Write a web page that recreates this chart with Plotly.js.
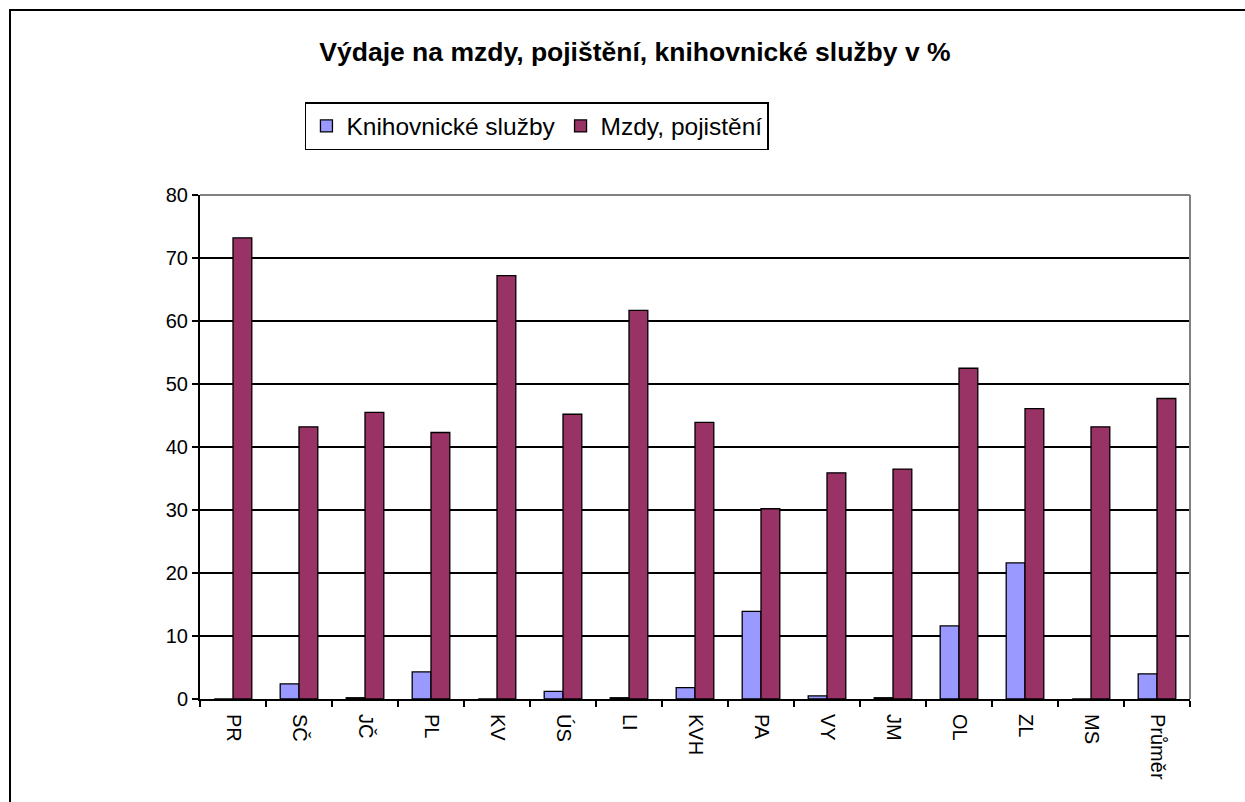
<!DOCTYPE html>
<html><head><meta charset="utf-8">
<script src="https://cdn.plot.ly/plotly-3.0.1.min.js"></script>
<style>
html,body{margin:0;padding:0;background:#fff;}
#wrap{position:relative;width:1245px;height:802px;}
#chart{width:1245px;height:802px;}
#frame{position:absolute;left:9px;top:9px;width:1300px;height:900px;border-left:2px solid #000;border-top:2px solid #000;pointer-events:none;}
</style></head>
<body>
<div id="wrap"><div id="chart"></div><div id="frame"></div></div>
<script>
const categories = ["PR","SČ","JČ","PL","KV","ÚS","LI","KVH","PA","VY","JM","OL","ZL","MS","Průměr"];
const knihovnicke = [0, 2.4, 0.2, 4.3, 0, 1.2, 0.2, 1.8, 13.9, 0.5, 0.2, 11.6, 21.6, 0, 4.0];
const mzdy = [73.2, 43.2, 45.5, 42.3, 67.2, 45.2, 61.7, 43.9, 30.2, 35.9, 36.5, 52.5, 46.1, 43.2, 47.7];
const seriesNames = ["Knihovnické služby", "Mzdy, pojistění"];
const titleText = "Výdaje na mzdy, pojištění, knihovnické služby v %";

const font = "Arial, 'Liberation Sans', sans-serif";
const traces = [
  {type:"bar", name:seriesNames[0], x:categories, y:knihovnicke,
   marker:{color:"#9999FF", line:{color:"#000", width:1.3}}},
  {type:"bar", name:seriesNames[1], x:categories, y:mzdy,
   marker:{color:"#993366", line:{color:"#000", width:1.3}}}
];
const layout = {
  width:1245, height:802,
  margin:{l:200, r:55, t:195, b:103},
  paper_bgcolor:"#fff", plot_bgcolor:"#fff",
  font:{family:font, color:"#000"},
  title:{text:"<b>"+titleText+"</b>", x:0.51, xanchor:"center", y:0.935, yanchor:"middle",
         font:{family:font, size:26.5, color:"#000"}},
  barmode:"group", bargap:0.43, bargroupgap:0,
  showlegend:true,
  legend:{orientation:"h", x:0.106, xanchor:"left", y:1.1845, yanchor:"top",
          bordercolor:"#000", borderwidth:1.5, bgcolor:"#fff",
          font:{family:font, size:24.5, color:"#000"}, itemwidth:30, tracegroupgap:0},
  xaxis:{type:"category", tickangle:90, ticks:"outside", ticklen:6, tickwidth:1.5, tickcolor:"#000",
         tickson:"boundaries", showline:true, linecolor:"#000", linewidth:2, ticklabelstandoff:9,
         tickfont:{family:font, size:20, color:"#000"}, showgrid:false, fixedrange:true},
  yaxis:{range:[0,80], dtick:10, ticks:"outside", ticklen:6, tickwidth:1.5, tickcolor:"#000",
         showline:true, linecolor:"#000", linewidth:2, showgrid:true, gridcolor:"#000", gridwidth:1.5,
         zeroline:false, tickfont:{family:font, size:20, color:"#000"}, fixedrange:true},
  shapes:[
    {type:"line", xref:"paper", yref:"paper", x0:0, x1:1, y0:1, y1:1, line:{color:"#808080", width:2}},
    {type:"line", xref:"paper", yref:"paper", x0:1, x1:1, y0:0, y1:1, line:{color:"#808080", width:2}}
  ]
};
Plotly.newPlot("chart", traces, layout, {displayModeBar:false, staticPlot:true});
</script>
</body></html>
